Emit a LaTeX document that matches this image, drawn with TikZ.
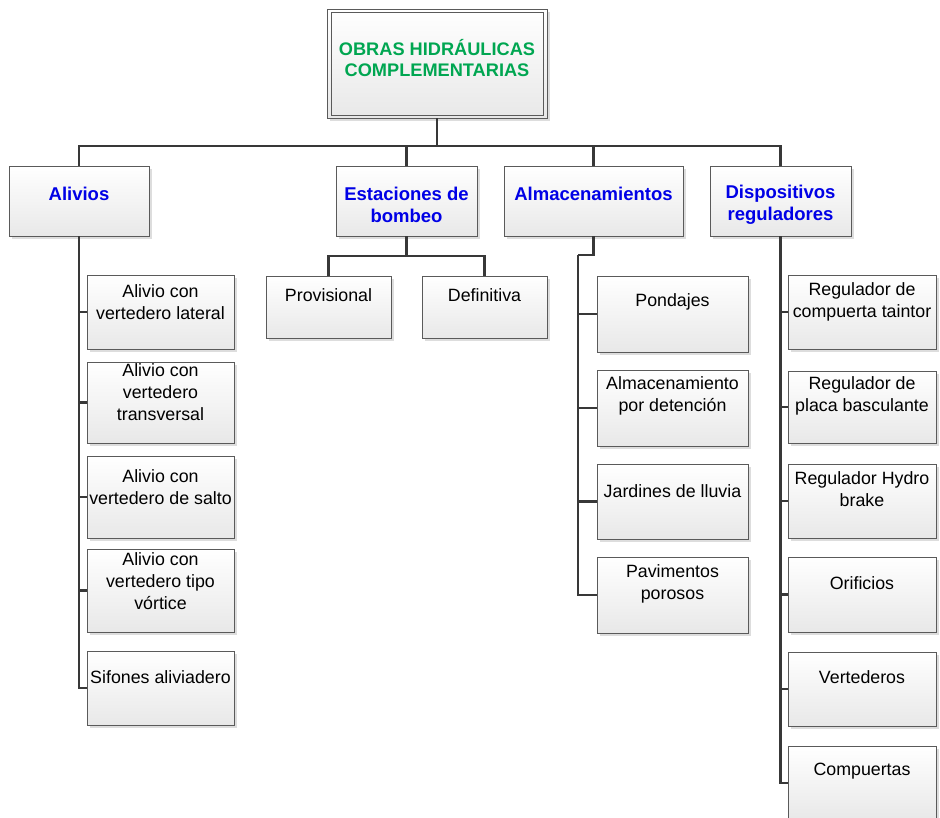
\documentclass[tikz,border=0pt]{standalone}
\usepackage{fontspec}
\setmainfont{Liberation Sans}
\usetikzlibrary{shadows,fit}
\definecolor{titlegreen}{HTML}{00A651}
\definecolor{headblue}{HTML}{0000E6}
\definecolor{linegray}{HTML}{383838}
\definecolor{boxedge}{HTML}{5A5A5A}
\begin{document}
\begin{tikzpicture}[x=1pt,y=-1pt,
  boxbase/.style={draw=boxedge, line width=0.8pt, top color=white, bottom color=black!9,
    drop shadow={shadow xshift=3pt, shadow yshift=-3pt, fill=black!22, opacity=0.6},
    inner sep=0pt},
  conn/.style={draw=linegray, line width=2.2pt},
  leaftxt/.style={align=center, font=\fontsize{17.8}{22}\selectfont, inner sep=0pt},
  headtxt/.style={align=center, font=\fontsize{18.5}{22}\selectfont\bfseries, text=headblue, inner sep=0pt},
  titletxt/.style={align=center, font=\fontsize{18.2}{20.5}\selectfont\bfseries, text=titlegreen, inner sep=0pt}
]
\useasboundingbox (0,0) rectangle (940,817);
\clip (0,0) rectangle (940,817);

% ---- boxes ----
\node[boxbase, fit={(327,9) (547,118)}] (root) {};
\draw[boxedge, line width=0.8pt] ([shift={(5pt,-4pt)}]root.north west) rectangle ([shift={(-4pt,3pt)}]root.south east);

\node[boxbase, fit={(9,166) (149,236)}] (alv) {};
\node[boxbase, fit={(336,166) (477,236)}] (est) {};
\node[boxbase, fit={(504,166) (683,236)}] (alm) {};
\node[boxbase, fit={(710,166) (851,236)}] (disp) {};

\node[boxbase, fit={(87,275) (234,349)}] (a1) {};
\node[boxbase, fit={(87,362) (234,443)}] (a2) {};
\node[boxbase, fit={(87,456) (234,538)}] (a3) {};
\node[boxbase, fit={(87,549) (234,632)}] (a4) {};
\node[boxbase, fit={(87,651) (234,725)}] (a5) {};

\node[boxbase, fit={(266,276) (391,338)}] (prov) {};
\node[boxbase, fit={(422,276) (547,338)}] (def) {};

\node[boxbase, fit={(597,276) (748,352)}] (p1) {};
\node[boxbase, fit={(597,370) (748,446)}] (p2) {};
\node[boxbase, fit={(597,464) (748,539)}] (p3) {};
\node[boxbase, fit={(597,557) (748,633)}] (p4) {};

\node[boxbase, fit={(788,275) (936,349)}] (d1) {};
\node[boxbase, fit={(788,371) (936,443)}] (d2) {};
\node[boxbase, fit={(788,464) (936,538)}] (d3) {};
\node[boxbase, fit={(788,557) (936,632)}] (d4) {};
\node[boxbase, fit={(788,652) (936,726)}] (d5) {};
\node[boxbase, fit={(788,746) (936,820)}] (d6) {};

% ---- connectors ----
\coordinate (bus) at (0,146);
\draw[conn] (root.south) -- (root.south |- bus);
\draw[conn] (alv.north) -- (alv.north |- bus) -- (disp.north |- bus) -- (disp.north);
\draw[conn] (est.north) -- (est.north |- bus);
\draw[conn] (alm.north) -- (alm.north |- bus);

\foreach \c in {a1,a2,a3,a4,a5} \draw[conn] (alv.south) |- (\c.west);

\coordinate (eb) at (0,256);
\draw[conn] (est.south) -- (est.south |- eb);
\draw[conn] (prov.north) -- (prov.north |- eb) -- (def.north |- eb) -- (def.north);

\coordinate (ak) at (578,255);
\draw[conn] (alm.south) |- (ak);
\foreach \c in {p1,p2,p3,p4} \draw[conn] (ak) |- (\c.west);

\foreach \c in {d1,d2,d3,d4,d5,d6} \draw[conn] (disp.south) |- (\c.west);

% ---- texts ----
\node[titletxt] (roott) at (437,58) {OBRAS HIDRÁULICAS\\COMPLEMENTARIAS};

\node[headtxt] (alvt) at (79,194) {Alivios};
\node[headtxt] (estt) at (406.5,205) {Estaciones de\\bombeo};
\node[headtxt] (almt) at (593.5,194) {Almacenamientos};
\node[headtxt] (dispt) at (780.5,205) {Dispositivos\\reguladores};

\node[leaftxt] (a1t) at (160.5,302) {Alivio con\\vertedero lateral};
\node[leaftxt] (a2t) at (160.5,392) {Alivio con\\vertedero\\transversal};
\node[leaftxt] (a3t) at (160.5,487) {Alivio con\\vertedero de salto};
\node[leaftxt] (a4t) at (160.5,581) {Alivio con\\vertedero tipo\\vórtice};
\node[leaftxt] (a5t) at (160.5,677) {Sifones aliviadero};

\node[leaftxt] (provt) at (328.5,295) {Provisional};
\node[leaftxt] (deft) at (484.5,295) {Definitiva};

\node[leaftxt] (p1t) at (672.5,302) {Pondajes};
\node[leaftxt] (p2t) at (672.5,396) {Almacenamiento\\por detención};
\node[leaftxt] (p3t) at (672.5,491) {Jardines de lluvia};
\node[leaftxt] (p4t) at (672.5,584) {Pavimentos\\porosos};

\node[leaftxt] (d1t) at (862,302) {Regulador de\\compuerta taintor};
\node[leaftxt] (d2t) at (862,396) {Regulador de\\placa basculante};
\node[leaftxt] (d3t) at (862,489) {Regulador Hydro\\brake};
\node[leaftxt] (d4t) at (862,583) {Orificios};
\node[leaftxt] (d5t) at (862,677) {Vertederos};
\node[leaftxt] (d6t) at (862,771) {Compuertas};
\end{tikzpicture}
\end{document}
